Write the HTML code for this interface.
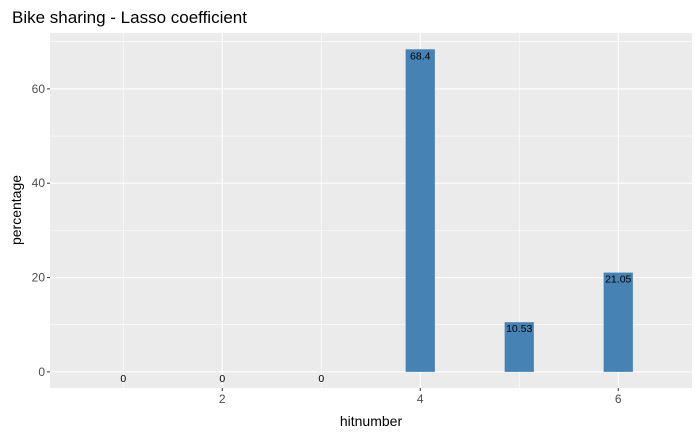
<!DOCTYPE html>
<html><head><meta charset="utf-8"><style>body{margin:0;background:#fff}svg{display:block;font-family:"Liberation Sans",Arial,sans-serif}</style></head>
<body>
<svg id="chart" width="700" height="432">
<rect width="700" height="432" fill="#fff"/>
<text x="12" y="23" font-size="17" fill="#000">Bike sharing - Lasso coefficient</text>
<rect x="50" y="33" width="642" height="355" fill="#ebebeb"/>
<g id="grid"></g>
<g id="bars"></g>
<g id="axes"></g>
<text x="371" y="426" font-size="14" text-anchor="middle" fill="#000">hitnumber</text>
<text transform="translate(21,210) rotate(-90)" font-size="14" text-anchor="middle" fill="#000">percentage</text>
</svg>
<script>
const categories = [1, 2, 3, 4, 5, 6];
const values = [0, 0, 0, 68.4, 10.53, 21.05];
const valueLabels = ["0", "0", "0", "68.4", "10.53", "21.05"];
const xTicks = [2, 4, 6];
const xMinor = [1, 3, 5];
const yTicks = [0, 20, 40, 60];
const yMinor = [10, 30, 50, 70];

const NS = "http://www.w3.org/2000/svg";
const px0 = 50, px1 = 692, py0 = 33, py1 = 388;
const xMin = 0.26, xMax = 6.745, yMin = -3.42, yMax = 71.85;
function xs(v){ return px0 + (v - xMin) / (xMax - xMin) * (px1 - px0); }
function ys(v){ return py1 - (v - yMin) / (yMax - yMin) * (py1 - py0); }
function mk(tag, attrs, parent){ const e = document.createElementNS(NS, tag); for (const k in attrs) e.setAttribute(k, attrs[k]); parent.appendChild(e); return e; }
const grid = document.getElementById('grid'), bars = document.getElementById('bars'), axes = document.getElementById('axes');

yMinor.forEach(v => { const l = mk('line', {x1:px0, x2:px1, y1:ys(v), y2:ys(v), stroke:'#fff', 'stroke-width':0.6}, grid);
  
   });
xMinor.forEach(v => { const l = mk('line', {x1:xs(v), x2:xs(v), y1:py0, y2:py1, stroke:'#fff', 'stroke-width':0.6}, grid);
  
   });
yTicks.forEach(v => { const l = mk('line', {x1:px0, x2:px1, y1:ys(v), y2:ys(v), stroke:'#fff', 'stroke-width':1.1}, grid);
  
  
  const t = mk('line', {x1:px0-3, x2:px0, y1:ys(v), y2:ys(v), stroke:'#333', 'stroke-width':1}, axes);
  
  
  const tx = mk('text', {x:px0-5, y:ys(v)+4, 'font-size':12, 'text-anchor':'end', fill:'#4d4d4d'}, axes);
  tx.textContent = v;
  
   });
xTicks.forEach(v => { const l = mk('line', {x1:xs(v), x2:xs(v), y1:py0, y2:py1, stroke:'#fff', 'stroke-width':1.1}, grid);
  
  
  const t = mk('line', {x1:xs(v), x2:xs(v), y1:py1, y2:py1+3, stroke:'#333', 'stroke-width':1}, axes);
  
  
  const tx = mk('text', {x:xs(v), y:py1+15, 'font-size':12, 'text-anchor':'middle', fill:'#4d4d4d'}, axes);
  tx.textContent = v;
  
   });

const bw = 0.295;
categories.forEach((c, i) => {
  const v = values[i];
  const x0 = xs(c - bw/2), x1 = xs(c + bw/2);
  if (v > 0) {
    const r = mk('rect', {x:x0, y:ys(v), width:x1-x0, height:ys(0)-ys(v), fill:'#4682b4'}, bars);
    
    
  }
  const t = mk('text', {x:xs(c), y:ys(v)+10, 'font-size':10.5, 'text-anchor':'middle', fill:'#000'}, bars);
  t.textContent = valueLabels[i];
  
  
});
</script>
</body></html>
